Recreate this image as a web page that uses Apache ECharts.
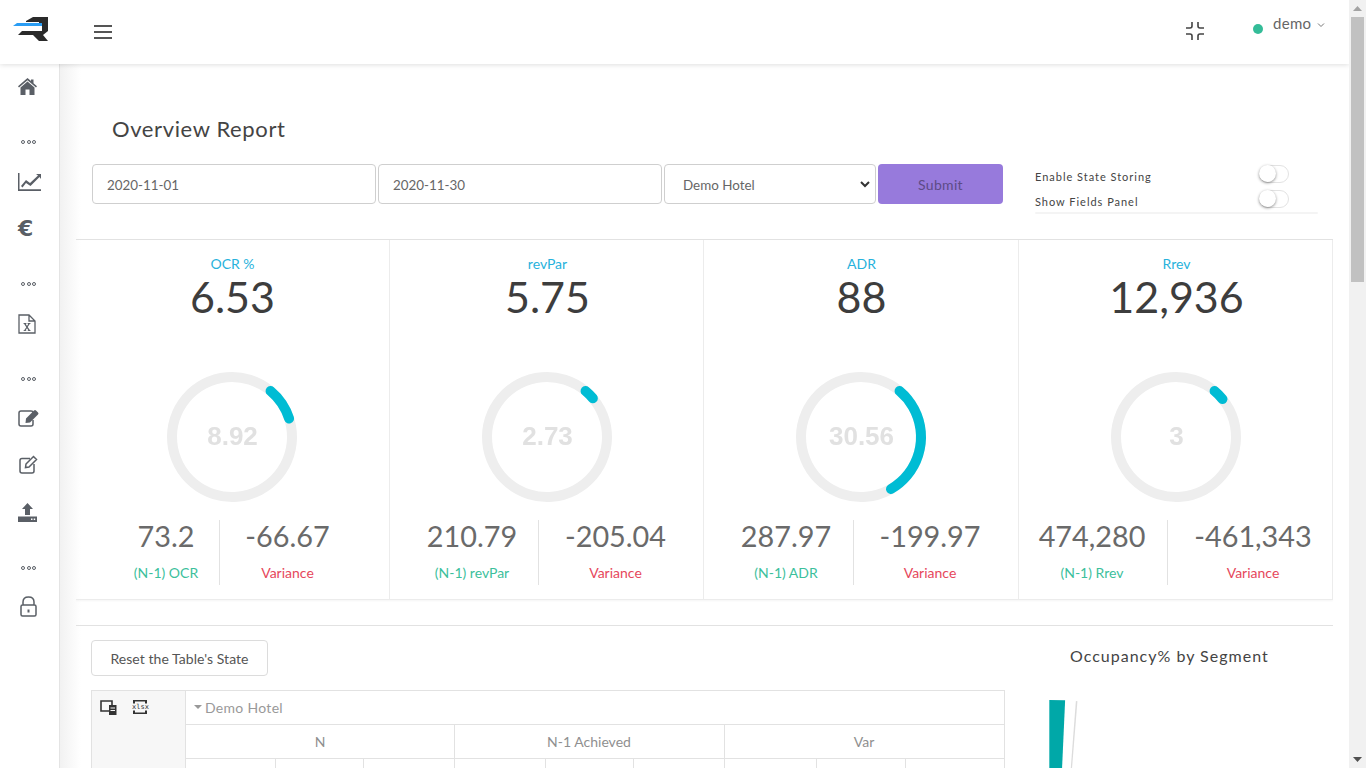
<!DOCTYPE html>
<html><head><meta charset="utf-8">
<script src="https://cdn.jsdelivr.net/npm/echarts@6/dist/echarts.min.js"></script>
<style>
html,body{margin:0;padding:0;width:1366px;height:768px;overflow:hidden;background:#fff;font-family:"Lato","Noto Sans",sans-serif;color:#3a3a3a}
.a{position:absolute;white-space:nowrap}
.c{transform:translateX(-50%)}
.ln{position:absolute;background:#e2e2e2}
.inp{position:absolute;box-sizing:border-box;border:1px solid #cfcfcf;border-radius:4px;height:40px;top:164px;line-height:40px;font-size:13.4px;color:#666;padding-left:14px;background:#fff}
.tg{position:absolute;left:1259px;width:30px;height:18px;border:1px solid #e3e3e3;border-radius:10px;box-sizing:border-box}
.tg i{position:absolute;left:-1px;top:-1px;width:17px;height:17px;border-radius:50%;background:#fff;box-shadow:0 1px 3px rgba(0,0,0,.45)}
svg{position:absolute;fill:#5a5f66}
.dots{position:absolute;left:21px;width:16px;height:5px}
.dots b{position:absolute;top:0;border:1.2px solid #5a5f66;border-radius:50%;box-sizing:content-box;width:2.4px;height:2.4px}
#ov{position:absolute;left:0;top:0;width:1366px;height:768px;pointer-events:none}
</style></head><body>
<div class="a" style="left:59px;top:64px;width:22px;height:704px;background:linear-gradient(90deg,#f1f1f1,#fff)"></div>
<div class="ln" style="left:59px;top:64px;width:1px;height:704px;background:#e4e4e4"></div>
<div class="a" style="left:0;top:0;width:1349px;height:64px;background:#fff;box-shadow:0 1px 5px rgba(0,0,0,.13)"></div>

<svg style="left:12px;top:16px" width="37" height="27" viewBox="0 0 37 27">
<path fill="#2a2a2a" d="M14 5 L21 1 H36 V15 L31 19 L36 25 H27 L21 19 H6 L10 15 H30 V10 H27 V6 H14 Z"/>
<path fill="#2a9df4" d="M1 10 L5 7 H30 V10 Z" /></svg>
<div class="a" style="left:94px;top:25px;width:18px;height:1.6px;background:#555;box-shadow:0 6px 0 #555,0 12px 0 #555"></div>

<svg style="left:1185px;top:21px" width="20" height="20" viewBox="0 0 20 20"><path fill="none" stroke="#444" stroke-width="1.6" d="M7 1V5Q7 7 5 7H1M13 1V5Q13 7 15 7H19M7 19V15Q7 13 5 13H1M13 19V15Q13 13 15 13H19"/></svg>
<div class="a" style="left:1253px;top:24px;width:10px;height:10px;border-radius:50%;background:#34bc98"></div>
<div class="a" style="left:1273px;top:14px;font-size:15px;color:#666;letter-spacing:.3px">demo</div>
<svg style="left:1317px;top:22px" width="8" height="6" viewBox="0 0 8 6"><path fill="none" stroke="#777" d="M1 1.5L4 4.5L7 1.5"/></svg>

<div class="a" style="left:1349px;top:0;width:17px;height:768px;background:#f1f1f1"></div>
<div class="a" style="left:1351px;top:17px;width:13px;height:265px;background:#c1c1c1"></div>
<svg style="left:1353px;top:6px" width="9" height="5" viewBox="0 0 9 5"><path fill="#a3a3a3" d="M0 5L4.5 0L9 5Z"/></svg>
<svg style="left:1353px;top:757px" width="9" height="5" viewBox="0 0 9 5"><path fill="#505050" d="M0 0L4.5 5L9 0Z"/></svg>

<svg style="left:18px;top:78px" width="19" height="17" viewBox="0 0 19 17"><path d="M9.5 0L13 3V1.5H15.5V5.2L19 8.3L18 9.4L9.5 2.2L1 9.4L0 8.3ZM9.5 3.6L16.5 9.5V17H11.5V11.5H7.5V17H2.5V9.5Z"/></svg>
<div id="dots"></div>
<svg style="left:18px;top:173px" width="23" height="18" viewBox="0 0 23 18"><path d="M0 0H1.5V16.3H23V18H0Z"/><path d="M3 13L8 7L12 10L20 2.5L18 1H23V6L21.5 4L12.5 13L8 10L4.5 14.5Z"/></svg>
<div class="a" style="left:18px;top:216px;font-size:22px;font-weight:900;color:#5a5f66;font-family:'DejaVu Sans'">€</div>
<svg style="left:18px;top:314px" width="18" height="20" viewBox="0 0 18 20"><path fill="none" stroke="#5a5f66" stroke-width="1.3" d="M1 1H11L17 7V19H1ZM11 1V7H17"/><path d="M5.5 9H8.5V9.8L7.8 10L9 12L10.2 10L9.5 9.8V9H12.5V9.8L11.7 10L9.7 13L12 16.2L12.7 16.4V17H9.7V16.4L10.4 16.2L9 14.2L7.6 16.2L8.3 16.4V17H5.5V16.4L6.2 16.2L8.3 13.2L6.2 10L5.5 9.8Z"/></svg>
<svg style="left:18px;top:409px" width="21" height="19" viewBox="0 0 21 19"><path fill="none" stroke="#5a5f66" stroke-width="1.5" d="M15 6V3Q15 2 13 2H3Q1 2 1 4V15Q1 17 3 17H13Q15 17 15 15V11"/><path d="M8 9.5L16 1.5Q17 .5 18 1.5L20 3.4Q21 4.4 20 5.4L12 13.5L7.5 14Z"/></svg>
<svg style="left:19px;top:455px" width="19" height="19" viewBox="0 0 19 19"><path fill="none" stroke="#5a5f66" stroke-width="1.5" d="M11 3.5H3Q1 3.5 1 5.5V16Q1 18 3 18H13Q15 18 15 16V9M7 9L14.5 1.5L17.5 4.5L10 12L6.5 12.5Z"/></svg>
<svg style="left:18px;top:503px" width="19" height="19" viewBox="0 0 19 19"><path d="M9.5 0L15 6H12V12H7V6H4ZM0 13.5H19V19H0Z"/><path fill="#fff" d="M13 15.5h1.5V17H13ZM15.7 15.5h1.5V17h-1.5Z"/></svg>
<svg style="left:20px;top:596px" width="17" height="21" viewBox="0 0 17 21"><path fill="none" stroke="#5a5f66" stroke-width="1.5" d="M3 9V6Q3 1 8.5 1T14 6V9M2.5 9H14.5Q16 9 16 10.5V18.5Q16 20 14.5 20H2.5Q1 20 1 18.5V10.5Q1 9 2.5 9Z"/><path d="M7.5 13.5h2v3h-2Z"/></svg>

<div class="a" style="left:112px;top:115px;font-size:22px;color:#444;letter-spacing:.62px">Overview Report</div>
<div class="inp" style="left:92px;width:284px">2020-11-01</div>
<div class="inp" style="left:378px;width:284px">2020-11-30</div>
<div class="inp" style="left:664px;width:212px;padding-left:18px">Demo Hotel</div>
<svg style="left:860px;top:181px" width="10" height="7" viewBox="0 0 10 7"><path fill="none" stroke="#333" stroke-width="2" d="M1 1L5 5L9 1"/></svg>
<div class="a" style="left:878px;top:164px;width:125px;height:40px;border-radius:4px;background:#977adc;color:#5d4a86;font-size:14px;line-height:42px;text-align:center;letter-spacing:.3px">Submit</div>
<div class="a" style="left:1035px;top:170px;font-size:11px;color:#444;letter-spacing:.98px">Enable State Storing</div>
<div class="a" style="left:1035px;top:195px;font-size:11px;color:#444;letter-spacing:.98px">Show Fields Panel</div>
<div class="tg" style="top:165px"><i></i></div><div class="tg" style="top:190px"><i></i></div>
<div class="a" style="left:1035px;top:212px;width:283px;height:2px;background:#f4f4f4;border-radius:2px"></div>

<div class="ln" style="left:76px;top:239px;width:1257px;height:1px"></div>
<div id="kpi"></div>
<div class="ln" style="left:76px;top:625px;width:1257px;height:1px"></div>

<div class="a" style="left:91px;top:640px;width:177px;height:36px;box-sizing:border-box;border:1px solid #dcdcdc;border-radius:4px;text-align:center;font-size:14px;line-height:35px;color:#555;letter-spacing:.05px">Reset the Table's State</div>

<div class="a" style="left:91px;top:690px;width:94px;height:78px;background:#f7f7f7"></div>
<div id="tbl"></div>
<svg style="left:100px;top:700px" width="17" height="15" viewBox="0 0 17 15"><path fill="none" stroke="#333" stroke-width="1.6" d="M1 1H12V11H1Z"/><path fill="#333" d="M9 5H16.5V15H9Z"/><path fill="#f7f7f7" d="M10.5 7.5H15V8.5H10.5ZM10.5 10H15V11H10.5Z"/></svg>
<svg style="left:133px;top:700px" width="14" height="14" viewBox="0 0 14 14"><path fill="#333" d="M0 0H14V3.5H12V1.5H2V3.5H0ZM0 10.5H2V12.5H12V10.5H14V14H0Z"/></svg>
<div class="a" style="left:132px;top:703px;font:7px 'DejaVu Sans Mono';color:#333;letter-spacing:0">xlsx</div>
<div class="a" style="left:205px;top:699px;font-size:14px;color:#999;letter-spacing:.3px">Demo Hotel</div>
<svg style="left:194px;top:705px" width="8" height="4" viewBox="0 0 8 4"><path fill="#999" d="M0 0H8L4 4Z"/></svg>
<div class="a" style="left:1070px;top:646px;font-size:16px;color:#444;letter-spacing:1px;line-height:20px">Occupancy% by Segment</div>

<div id="ov"></div>
<script>
const kpiLabels = ["OCR %","revPar","ADR","Rrev"];
const kpiValues = ["6.53","5.75","88","12,936"];
const gaugeValues = [8.92,2.73,30.56,3];
const priorLabels = ["(N-1) OCR","(N-1) revPar","(N-1) ADR","(N-1) Rrev"];
const priorValues = ["73.2","210.79","287.97","474,280"];
const varianceValues = ["-66.67","-205.04","-199.97","-461,343"];
const varianceLabel = "Variance";
const tableGroups = ["N","N-1 Achieved","Var"];
const segmentShares = [0.72,0.49,0.07,98.72];
const segmentColors = ["#00a8a8","transparent","#dcdcdc","transparent"];

document.getElementById('dots').innerHTML=[140,282,377,566].map(y=>`<div class="dots" style="top:${y}px"><b style="left:0"></b><b style="left:5.5px"></b><b style="left:11px"></b></div>`).join('');

const centers=[232.5,547.5,861.5,1176.5];
const priorX=[166,472,786,1092], varX=[287.5,615.5,930,1253], divX=[219.5,538,853,1167], edge=[389,703,1018,1332];
const kpi=document.getElementById('kpi'); let h='';
kpiLabels.forEach((l,i)=>{
 h+=`<div class="a c" style="left:${centers[i]}px;top:255px;font-size:14px;color:#27b2dc">${l}</div>`;
 h+=`<div class="a c" style="left:${centers[i]}px;top:271px;font-size:43px;color:#3d3d3d;line-height:52px">${kpiValues[i]}</div>`;
 h+=`<div class="a c" style="left:${priorX[i]}px;top:517px;font-size:28.8px;color:#6a6a6a;line-height:38px">${priorValues[i]}</div>`;
 h+=`<div class="a c" style="left:${varX[i]}px;top:517px;font-size:28.8px;color:#6a6a6a;line-height:38px">${varianceValues[i]}</div>`;
 h+=`<div class="a c" style="left:${priorX[i]}px;top:564px;font-size:14px;color:#3cc09c">${priorLabels[i]}</div>`;
 h+=`<div class="a c" style="left:${varX[i]}px;top:564px;font-size:14px;color:#e6475c">${varianceLabel}</div>`;
 h+=`<div class="ln" style="left:${Math.floor(divX[i])}px;top:520px;width:1px;height:65px"></div>`;
 h+=`<div class="ln" style="left:${edge[i]}px;top:240px;width:1px;height:360px;background:#ececec"></div>`;
});
h+=`<div class="a" style="left:76px;top:599px;width:1257px;height:1px;background:#ececec;box-shadow:0 1px 2px rgba(0,0,0,.06)"></div>`;
kpi.innerHTML=h;

const tbl=document.getElementById('tbl'); let t='';
const hl=(y,x=185,w=819)=>`<div class="ln" style="left:${x}px;top:${y}px;width:${w}px;height:1px"></div>`;
const vl=(x,y,hh)=>`<div class="ln" style="left:${x}px;top:${y}px;width:1px;height:${hh}px"></div>`;
t+=hl(690,91,914)+hl(724)+hl(758)+vl(91,690,78)+vl(185,690,78)+vl(1004,690,78);
[454,724].forEach(x=>t+=vl(x,724,44));
[275,363,545,633,816,905].forEach(x=>t+=vl(x,758,10));
[[320,0],[589,1],[864,2]].forEach(([x,i])=>t+=`<div class="a c" style="left:${x}px;top:733px;font-size:14px;color:#8f8f8f">${tableGroups[i]}</div>`);
tbl.innerHTML=t;

const chart=echarts.init(document.getElementById('ov'),null,{renderer:'canvas'});
const series=gaugeValues.map((v,i)=>({
 type:'gauge',center:[centers[i]-.5,437],radius:65,startAngle:50,endAngle:-310,min:0,max:100,
 pointer:{show:false},axisTick:{show:false},splitLine:{show:false},axisLabel:{show:false},title:{show:false},
 axisLine:{roundCap:false,lineStyle:{width:10,color:[[1,'#eeeeee']]}},
 progress:{show:true,width:10,roundCap:true,itemStyle:{color:'#00bcd4'}},
 detail:{valueAnimation:false,offsetCenter:[0.5,1],fontFamily:'Liberation Sans',fontWeight:'bold',fontSize:26,color:'#e1e1e1',formatter:x=>String(x)},
 animation:false,silent:true,data:[{value:v}]
}));
series.push({type:'pie',center:[1049.3,1050],radius:[0,350],startAngle:90,clockwise:true,animation:false,silent:true,
 label:{show:false},labelLine:{show:false},
 data:segmentShares.map((v,i)=>({value:v,itemStyle:{color:segmentColors[i]}}))});
chart.setOption({animation:false,series});
</script>
</body></html>
